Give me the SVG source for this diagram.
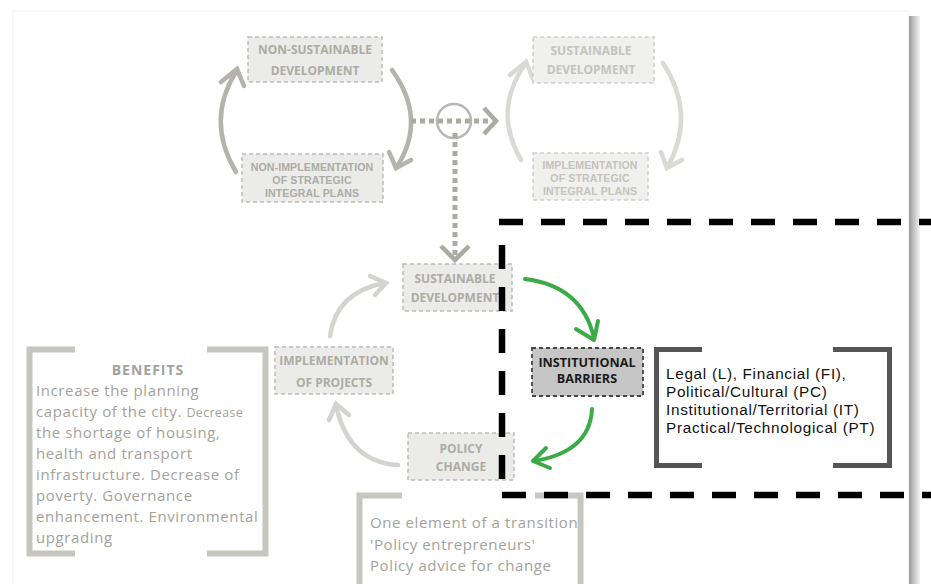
<svg xmlns="http://www.w3.org/2000/svg" width="931" height="584" viewBox="0 0 931 584">
<defs>
<linearGradient id="shadow" x1="0" y1="0" x2="1" y2="0">
<stop offset="0" stop-color="#9a9a9a"/>
<stop offset="0.5" stop-color="#c8c8c8"/>
<stop offset="1" stop-color="#f4f4f4"/>
</linearGradient>
<style>
.box{fill:#ebebe9;stroke:#bdbcb6;stroke-width:1.5;stroke-dasharray:4 3}
.boxL{fill:#f0f0ee;stroke:#cfcec9;stroke-width:1.5;stroke-dasharray:4 3}
.bt{font-family:"Open Sans","Liberation Sans",sans-serif;font-weight:bold;font-size:12px;fill:#acaba4;text-anchor:middle}
.btL{font-family:"Open Sans","Liberation Sans",sans-serif;font-weight:bold;font-size:12px;fill:#c4c3bd;text-anchor:middle}
.sm{font-family:"Liberation Sans",Arial,sans-serif;font-size:10.6px;letter-spacing:0.1px}
.arc{fill:none;stroke:#b4b3ad;stroke-width:4.5;stroke-linecap:round}
.arcL{fill:none;stroke:#d9d9d5;stroke-width:4.5;stroke-linecap:round}
.arcM{fill:none;stroke:#d3d3cf;stroke-width:4.5;stroke-linecap:round}
.grn{fill:none;stroke:#3bab48;stroke-width:4;stroke-linecap:round;stroke-linejoin:round}
.dot{fill:none;stroke:#abaaa3;stroke-width:5;stroke-dasharray:5 4}
.chev{fill:none;stroke:#abaaa3;stroke-width:4.5}
.brk{fill:none;stroke:#c6c5bf;stroke-width:6}
.brkD{fill:none;stroke:#555555;stroke-width:5}
.gtext{font-family:"Open Sans","Liberation Sans",sans-serif;font-size:15px;letter-spacing:0.6px;fill:#a3a29b}
.dtext{font-family:"Liberation Sans",Arial,sans-serif;font-size:15.3px;letter-spacing:0.7px;fill:#111111}
.bd{fill:none;stroke:#000;stroke-width:6.5;stroke-dasharray:24 18}
</style>
</defs>
<rect width="931" height="584" fill="#ffffff"/>
<rect x="13" y="11" width="896" height="600" fill="#ffffff" stroke="#f2f2f2" stroke-width="1"/>
<rect x="909" y="16" width="11" height="570" fill="url(#shadow)"/>

<g id="connectors">
<path class="arc" d="M236 172 Q205 120 237 70"/>
<path class="arc" d="M221 82 L237 69 L244 86"/>
<path class="arc" d="M392 70 Q428 120 396 168"/>
<path class="arc" d="M389 152 L396 168 L411 160"/>
<path class="arcL" d="M521 160 Q492 110 526 63"/>
<path class="arcL" d="M510 75 L526 62 L533 79"/>
<path class="arcL" d="M663 63 Q697 115 667 168"/>
<path class="arcL" d="M661 152 L667 168 L682 160"/>
<circle cx="454" cy="121" r="17" fill="none" stroke="#b8b7b1" stroke-width="2.5"/>
<path class="dot" d="M411 121 H490"/>
<path class="chev" d="M484 108 L496 121 L484 134"/>
<path class="dot" d="M455 133 V256"/>
<path class="chev" d="M441 246 L455 260 L469 246"/>
<path class="arcM" d="M330 336 Q336 292 385 283"/>
<path class="arcM" d="M370 276 L386 283 L375 295"/>
<path class="arcM" d="M398 465 Q348 462 336 405"/>
<path class="arcM" d="M329 420 L336 404 L349 415"/>
<path class="grn" d="M525 279 Q582 286 594 338"/>
<path class="grn" d="M576 329 L594 340 L598 321"/>
<path class="grn" d="M592 409 Q590 452 534 461"/>
<path class="grn" d="M546 448 L533 461 L550 468"/>
</g>

<g id="non-sustainable-development">
<rect class="box" x="248" y="37" width="134" height="45"/>
<text class="bt" x="315" y="54" font-size="13.5">NON-SUSTAINABLE</text>
<text class="bt" x="315" y="75" font-size="13.5">DEVELOPMENT</text>
</g>
<g id="non-implementation">
<rect class="box" x="242" y="154" width="141" height="48"/>
<text class="bt sm" x="312" y="171">NON-IMPLEMENTATION</text>
<text class="bt sm" x="312" y="184">OF STRATEGIC</text>
<text class="bt sm" x="312" y="197">INTEGRAL PLANS</text>
</g>
<g id="sustainable-development-top">
<rect class="boxL" x="533" y="37" width="121" height="46"/>
<text class="btL" x="591" y="55" font-size="12.8">SUSTAINABLE</text>
<text class="btL" x="591" y="74" font-size="12.8">DEVELOPMENT</text>
</g>
<g id="implementation-strategic">
<rect class="boxL" x="533" y="153" width="115" height="47"/>
<text class="btL sm" x="590" y="169">IMPLEMENTATION</text>
<text class="btL sm" x="590" y="182">OF STRATEGIC</text>
<text class="btL sm" x="590" y="195">INTEGRAL PLANS</text>
</g>
<g id="sustainable-development-mid">
<rect class="box" x="403" y="264" width="109" height="47"/>
<text class="bt" x="455" y="283" font-size="12.5">SUSTAINABLE</text>
<text class="bt" x="455" y="302" font-size="12.5">DEVELOPMENT</text>
</g>
<g id="implementation-projects">
<rect class="box" x="275" y="347" width="118" height="47"/>
<text class="bt" x="334" y="365" font-size="10.6">IMPLEMENTATION</text>
<text class="bt" x="334" y="387" font-size="10.6">OF PROJECTS</text>
</g>
<g id="policy-change">
<rect class="box" x="408" y="433" width="106" height="47"/>
<text class="bt" x="461" y="453" font-size="14">POLICY</text>
<text class="bt" x="461" y="471" font-size="14">CHANGE</text>
</g>
<g id="institutional-barriers">
<rect x="532" y="348" width="111" height="48" fill="#c6c6c6" stroke="#444" stroke-width="1.8" stroke-dasharray="4 3"/>
<text x="587" y="367" font-family="Open Sans, Liberation Sans, sans-serif" font-weight="bold" font-size="12.6" fill="#1a1a1a" text-anchor="middle">INSTITUTIONAL</text>
<text x="587" y="383" font-family="Open Sans, Liberation Sans, sans-serif" font-weight="bold" font-size="12.6" fill="#1a1a1a" text-anchor="middle">BARRIERS</text>
</g>

<g id="benefits">
<path class="brk" d="M75 349.5 H29.5 V553.5 H75"/>
<path class="brk" d="M207 349.5 H265.5 V553.5 H207"/>
<text x="148" y="375" font-family="Open Sans, Liberation Sans, sans-serif" font-weight="bold" font-size="14" letter-spacing="1" fill="#a3a29b" text-anchor="middle">BENEFITS</text>
<text class="gtext" x="36" y="396">Increase the planning</text>
<text class="gtext" x="36" y="417">capacity of the city. <tspan font-size="12.5" letter-spacing="0.3">Decrease</tspan></text>
<text class="gtext" x="36" y="438">the shortage of housing,</text>
<text class="gtext" x="36" y="459">health and transport</text>
<text class="gtext" x="36" y="480">infrastructure. Decrease of</text>
<text class="gtext" x="36" y="501">poverty. Governance</text>
<text class="gtext" x="36" y="522">enhancement. Environmental</text>
<text class="gtext" x="36" y="543">upgrading</text>
</g>

<g id="barrier-types">
<path class="brkD" d="M702 349.5 H656.5 V465.5 H702"/>
<path class="brkD" d="M833 349.5 H889.5 V465.5 H833"/>
<text class="dtext" x="666" y="379">Legal (L), Financial (FI),</text>
<text class="dtext" x="666" y="397">Political/Cultural (PC)</text>
<text class="dtext" x="666" y="415">Institutional/Territorial (IT)</text>
<text class="dtext" x="666" y="433">Practical/Technological (PT)</text>
</g>

<g id="policy-notes">
<path class="brk" d="M402 495.5 H359.5 V590"/>
<path class="brk" d="M535 495.5 H580.5 V590"/>
<text class="gtext" x="370" y="528">One element of a transition</text>
<text class="gtext" x="370" y="550">'Policy entrepreneurs'</text>
<text class="gtext" x="370" y="571">Policy advice for change</text>
</g>

<g id="focus-frame">
<path class="bd" d="M499 222 H931"/>
<path class="bd" d="M502 245 V492" stroke-dasharray="22 20"/>
<path class="bd" d="M502 495 H931"/>
</g>
</svg>
